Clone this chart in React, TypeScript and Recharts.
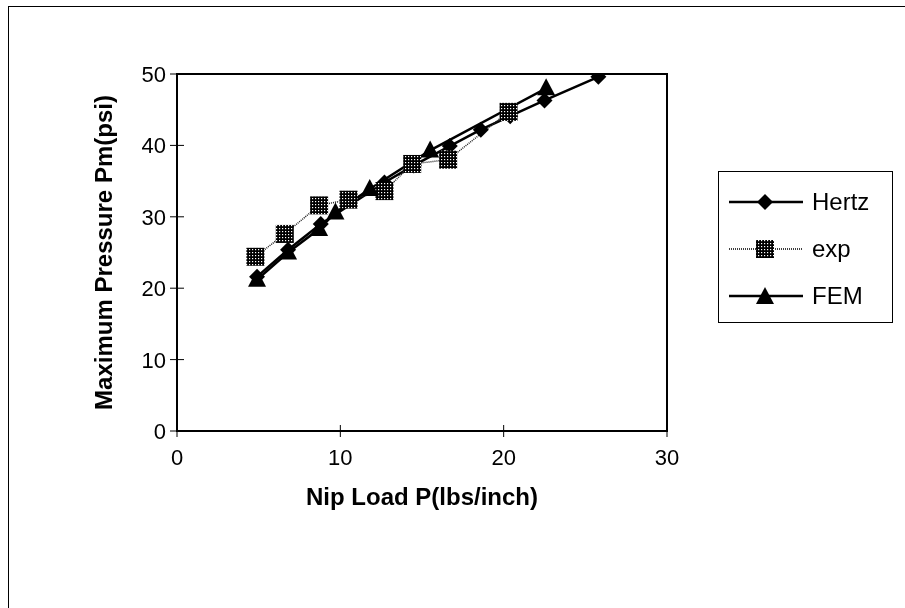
import React from 'react';
import { LineChart, Line, XAxis, YAxis, ReferenceArea } from 'recharts';

// Nip load P (lbs/inch) vs maximum pressure Pm (psi)
const hertzP = [4.9, 6.8, 8.8, 12.7, 14.5, 16.7, 18.6, 20.4, 22.5, 25.8];
const hertzPm = [21.6, 25.4, 29.0, 34.8, 37.2, 39.9, 42.2, 44.1, 46.3, 49.6];

const expP = [4.8, 6.6, 8.7, 10.5, 12.7, 14.4, 16.6, 20.3];
const expPm = [24.4, 27.6, 31.6, 32.4, 33.6, 37.4, 38.0, 44.7];

const femP = [4.9, 6.8, 8.7, 9.7, 11.8, 15.5, 22.6];
const femPm = [21.2, 25.0, 28.3, 30.6, 33.9, 39.3, 48.0];

const xTicks = [0, 10, 20, 30];
const yTicks = [0, 10, 20, 30, 40, 50];

const toRows = (ps: number[], vs: number[]) => ps.map((p, i) => ({ p, pm: vs[i] }));

const hertz = toRows(hertzP, hertzPm);
const exp = toRows(expP, expPm);
const fem = toRows(femP, femPm);

const FONT = 'Liberation Sans, Arial, sans-serif';

const Diamond = (props: any) => {
  const { cx, cy } = props;
  if (cx == null || cy == null) return null;
  return <path d={`M${cx},${cy - 8} L${cx + 8},${cy} L${cx},${cy + 8} L${cx - 8},${cy} Z`} fill="#000" />;
};

const Square = (props: any) => {
  const { cx, cy } = props;
  if (cx == null || cy == null) return null;
  return <rect x={cx - 9} y={cy - 9} width={18} height={18} fill="url(#chk)" />;
};

const Triangle = (props: any) => {
  const { cx, cy } = props;
  if (cx == null || cy == null) return null;
  return <path d={`M${cx},${cy - 10} L${cx + 9},${cy + 7} L${cx - 9},${cy + 7} Z`} fill="#000" />;
};

const YTick = (props: any) => {
  const { x, y, payload } = props;
  return (
    <g>
      <line x1={x - 7} x2={x + 7} y1={y} y2={y} stroke="#000" strokeWidth={1} />
      <text x={x - 11} y={y + 8} textAnchor="end" fontSize={22} fontFamily={FONT} fill="#000">
        {payload.value}
      </text>
    </g>
  );
};

const XTick = (props: any) => {
  const { x, y, payload } = props;
  return (
    <g>
      <line x1={x} x2={x} y1={y - 6} y2={y + 6} stroke="#000" strokeWidth={1} />
      <text x={x} y={y + 34} textAnchor="middle" fontSize={22} fontFamily={FONT} fill="#000">
        {payload.value}
      </text>
    </g>
  );
};

const legendRows = [
  { name: 'Hertz', marker: 'diamond', dash: undefined as string | undefined, width: 2.5 },
  { name: 'exp', marker: 'square', dash: '1 1', width: 1.5 },
  { name: 'FEM', marker: 'triangle', dash: undefined, width: 2.5 },
];

const ChartLegend = () => (
  <div
    style={{
      position: 'absolute',
      left: 710,
      top: 163,
      width: 175,
      height: 152,
      border: '1px solid #000',
      background: '#fff',
      boxSizing: 'border-box',
      paddingTop: 6,
    }}
  >
    {legendRows.map((r) => (
      <div key={r.name} style={{ display: 'flex', alignItems: 'center', height: 47 }}>
        <svg width={90} height={26} style={{ marginLeft: 8 }}>
          <line x1={2} x2={76} y1={13} y2={13} stroke="#000" strokeWidth={r.width} strokeDasharray={r.dash} />
          {r.marker === 'diamond' && <Diamond cx={38} cy={13} />}
          {r.marker === 'square' && <Square cx={38} cy={13} />}
          {r.marker === 'triangle' && <Triangle cx={38} cy={14} />}
        </svg>
        <span style={{ fontFamily: FONT, fontSize: 24, color: '#000', marginLeft: -5 }}>{r.name}</span>
      </div>
    ))}
  </div>
);

export default function App() {
  return (
    <div style={{ position: 'relative', width: 897, height: 600 }}>
      <svg width={0} height={0} style={{ position: 'absolute' }}>
        <defs>
          <pattern id="chk" width={3} height={3} patternUnits="userSpaceOnUse">
            <rect width={3} height={3} fill="#000" />
            <rect x={1} y={1} width={1.2} height={1.2} fill="#fff" />
          </pattern>
        </defs>
      </svg>
      <div style={{ position: 'fixed', left: 8, top: 6, width: 897, height: 1, background: '#000' }} />
      <div style={{ position: 'fixed', left: 8, top: 6, width: 1, height: 602, background: '#000' }} />
      <div style={{ position: 'absolute', left: 0, top: 0 }}>
        <LineChart width={889} height={592} margin={{ top: 66, right: 230, bottom: 139, left: 109 }}>
          <XAxis
            type="number"
            dataKey="p"
            domain={[0, 30]}
            ticks={xTicks}
            allowDataOverflow
            tickLine={false}
            tickSize={0}
            tickMargin={0}
            height={30}
            axisLine={false}
            tick={<XTick />}
            label={{
              content: (p: any) => {
                const vb = p.viewBox || {};
                return (
                  <text
                    x={vb.x + vb.width / 2}
                    y={vb.y + 74}
                    textAnchor="middle"
                    fontSize={24}
                    fontWeight="bold"
                    fontFamily={FONT}
                    fill="#000"
                  >
                    Nip Load P(lbs/inch)
                  </text>
                );
              },
            }}
          />
          <YAxis
            type="number"
            dataKey="pm"
            domain={[0, 50]}
            ticks={yTicks}
            allowDataOverflow
            tickLine={false}
            tickSize={0}
            tickMargin={0}
            width={60}
            axisLine={false}
            tick={<YTick />}
            label={{
              content: (p: any) => {
                const vb = p.viewBox || {};
                const cx = vb.x - 5;
                const cy = vb.y + vb.height / 2;
                return (
                  <text
                    x={cx}
                    y={cy}
                    transform={`rotate(-90 ${cx} ${cy})`}
                    textAnchor="middle"
                    fontSize={24}
                    fontWeight="bold"
                    fontFamily={FONT}
                    fill="#000"
                  >
                    Maximum Pressure Pm(psi)
                  </text>
                );
              },
            }}
          />
          <ReferenceArea x1={0} x2={30} y1={0} y2={50} fill="none" stroke="#000" strokeWidth={2} ifOverflow="visible" />
          <Line
            data={hertz}
            dataKey="pm"
            name="Hertz"
            stroke="#000"
            strokeWidth={2.5}
            dot={<Diamond />}
            activeDot={false}
            isAnimationActive={false}
          />
          <Line
            data={exp}
            dataKey="pm"
            name="exp"
            stroke="#222"
            strokeWidth={1.5}
            strokeDasharray="1 1"
            dot={<Square />}
            activeDot={false}
            isAnimationActive={false}
          />
          <Line
            data={fem}
            dataKey="pm"
            name="FEM"
            stroke="#000"
            strokeWidth={2.5}
            dot={<Triangle />}
            activeDot={false}
            isAnimationActive={false}
          />
        </LineChart>
      </div>
      <ChartLegend />
    </div>
  );
}
